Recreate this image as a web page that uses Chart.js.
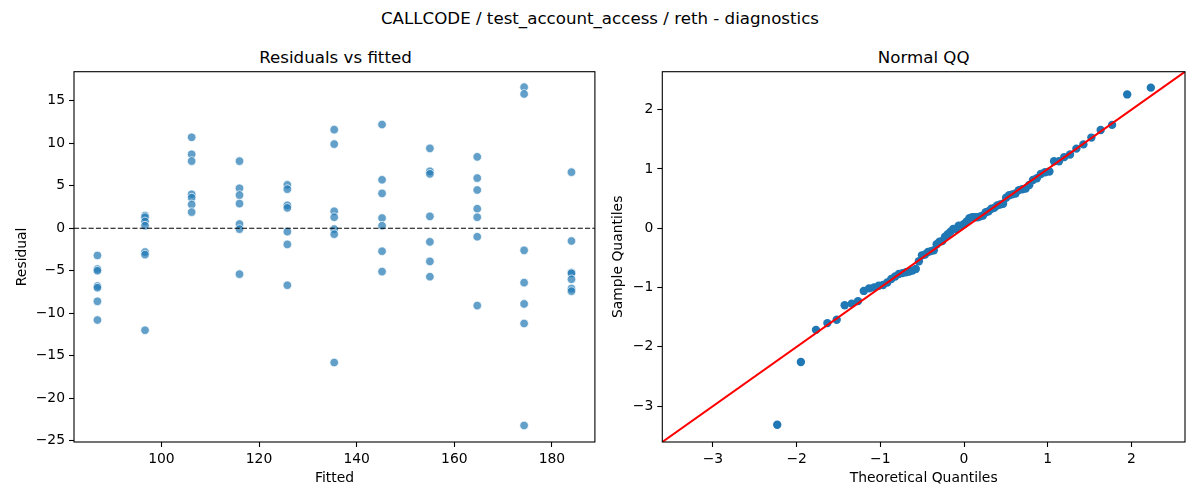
<!DOCTYPE html>
<html><head><meta charset="utf-8">
<script src="https://cdn.jsdelivr.net/npm/chart.js@4.4.1/dist/chart.umd.min.js"></script>
<style>
html,body{margin:0;padding:0;background:#fff;width:1200px;height:500px;overflow:hidden;font-family:"DejaVu Sans",sans-serif;}
.t{position:absolute;white-space:nowrap;color:#000;font-size:16.67px;line-height:20px;transform:translateX(-50%);}
.box{position:absolute;top:0;height:500px;width:600px;}
</style></head><body>
<div class="t" style="left:600px;top:9.2px">CALLCODE / test_account_access / reth - diagnostics</div>
<div class="t" style="left:335.5px;top:47.6px">Residuals vs fitted</div>
<div class="t" style="left:923.7px;top:47.6px">Normal QQ</div>
<div class="box" style="left:0"><canvas id="c1" width="600" height="500"></canvas></div>
<div class="box" style="left:600px"><canvas id="c2" width="600" height="500"></canvas></div>
<script>
// ---------- data ----------
const fittedLevels = [86.9, 96.65, 106.2, 116.0, 125.8, 135.4, 145.2, 155.0, 164.7, 174.3, 184.0];
const res1  = [-3.2, -4.8, -5.0, -6.8, -7.0, -8.6, -10.8];
const res2  = [1.5, 1.3, 0.8, 0.3, -2.8, -3.1, -12.0];
const res3  = [10.7, 8.7, 7.9, 4.0, 3.6, 2.8, 1.9];
const res4  = [7.9, 4.7, 3.9, 2.9, 0.5, -0.1, -5.4];
const res5  = [5.1, 4.6, 2.7, 2.4, -0.4, -1.9, -6.7];
const res6  = [11.6, 9.9, 2.0, 1.3, -0.1, -0.7, -15.8];
const res7  = [12.2, 5.7, 4.1, 1.2, 0.3, -2.7, -5.1];
const res8  = [9.4, 6.7, 6.4, 1.4, -1.6, -3.9, -5.7];
const res9  = [8.4, 5.9, 4.5, 2.3, 1.3, -1.0, -9.1];
const res10 = [16.6, 15.8, -2.6, -6.4, -8.9, -11.2, -23.2];
const res11 = [6.6, -1.5, -5.2, -5.3, -6.0, -7.1, -7.4];
const residualGroups = [res1, res2, res3, res4, res5, res6, res7, res8, res9, res10, res11];

const qqTheoretical = [-2.2317, -1.9494, -1.7688, -1.6326, -1.5215, -1.4261, -1.3422, -1.2666, -1.1976, -1.1347,
  -1.0757, -1.0201, -0.9674, -0.9172, -0.8694, -0.8233, -0.7790, -0.7363, -0.6949, -0.6547,
  -0.6151, -0.5767, -0.5391, -0.5024, -0.4663, -0.4307, -0.3957, -0.3611, -0.3270, -0.2934,
  -0.2599, -0.2267, -0.1940, -0.1613, -0.1289, -0.0966, -0.0643, -0.0321, 0.0, 0.0321,
  0.0643, 0.0966, 0.1289, 0.1613, 0.1940, 0.2267, 0.2599, 0.2934, 0.3270, 0.3611,
  0.3957, 0.4307, 0.4663, 0.5024, 0.5391, 0.5767, 0.6151, 0.6547, 0.6949, 0.7363,
  0.7790, 0.8233, 0.8694, 0.9172, 0.9674, 1.0201, 1.0757, 1.1347, 1.1976, 1.2666,
  1.3422, 1.4261, 1.5215, 1.6326, 1.7688, 1.9494, 2.2317];
const qqSample = [-3.314, -2.257, -1.714, -1.600, -1.543, -1.300, -1.271, -1.229, -1.057, -1.014,
  -1.000, -0.971, -0.957, -0.914, -0.857, -0.814, -0.771, -0.757, -0.743, -0.729,
  -0.714, -0.686, -0.557, -0.457, -0.443, -0.400, -0.386, -0.371, -0.271, -0.229,
  -0.214, -0.143, -0.100, -0.057, -0.014, -0.014, 0.043, 0.043, 0.071, 0.114,
  0.171, 0.186, 0.186, 0.186, 0.200, 0.214, 0.271, 0.286, 0.329, 0.343,
  0.386, 0.400, 0.414, 0.514, 0.557, 0.571, 0.586, 0.643, 0.657, 0.671,
  0.729, 0.814, 0.843, 0.914, 0.943, 0.957, 1.129, 1.129, 1.200, 1.243,
  1.343, 1.414, 1.529, 1.657, 1.743, 2.257, 2.371];

const residXTicks = [100, 120, 140, 160, 180];
const residYTicks = [-25, -20, -15, -10, -5, 0, 5, 10, 15];
const qqTicks = [-3, -2, -1, 0, 1, 2];
const residXRange = [82.1, 188.8];
const residYRange = [-25.15, 18.42];
const qqRange = [-3.605, 2.64];
const zeroLevel = 0;

// ---------- helpers ----------
Chart.defaults.color = '#000';
Chart.defaults.font.family = '"DejaVu Sans", sans-serif';
const tickFont = {size: 13.9};
const fmt = v => String(v).replace('-', '\u2212');

const framePlugin = {
  id: 'frame',
  afterDatasetsDraw(chart) {
    const {ctx, chartArea: a} = chart;
    ctx.save();
    ctx.strokeStyle = '#000';
    ctx.lineWidth = 1.1;
    ctx.strokeRect(a.left, a.top, a.right - a.left, a.bottom - a.top);
    ctx.restore();
  }
};

function axis(range, ticks, title, fitSize, horizontal, titlePad) {
  return {
    type: 'linear',
    min: range[0], max: range[1],
    afterBuildTicks: s => { s.ticks = ticks.map(v => ({value: v})); },
    afterFit: s => { if (horizontal) s.height = fitSize; else s.width = fitSize; },
    ticks: {font: tickFont, color: '#000', padding: 4, callback: fmt, maxRotation: 0, autoSkip: false},
    grid: {display: true, drawOnChartArea: false, drawTicks: true, tickLength: 5, tickColor: '#000', tickWidth: 1.1},
    border: {display: false},
    title: {display: true, text: title, font: {size: 13.9}, color: '#000', padding: titlePad}
  };
}

// ---------- left chart ----------
const residPoints = fittedLevels.flatMap((f, i) => residualGroups[i].map(r => ({x: f, y: r})));

const zeroLinePlugin = {
  id: 'zeroLine',
  afterDatasetsDraw(chart) {
    const {ctx, chartArea: a, scales} = chart;
    const y = scales.y.getPixelForValue(zeroLevel);
    ctx.save();
    ctx.strokeStyle = '#000';
    ctx.lineWidth = 1.1;
    ctx.setLineDash([5.1, 2.2]);
    ctx.beginPath();
    ctx.moveTo(a.left, y);
    ctx.lineTo(a.right, y);
    ctx.stroke();
    ctx.restore();
  }
};

new Chart(document.getElementById('c1'), {
  type: 'scatter',
  data: {datasets: [{
    data: residPoints,
    backgroundColor: 'rgba(31,119,180,0.7)',
    borderColor: 'rgba(255,255,255,0.9)',
    borderWidth: 0.8,
    pointRadius: 4.3,
    pointHoverRadius: 4.3
  }]},
  options: {
    responsive: false, animation: false, devicePixelRatio: 1,
    layout: {padding: {left: 0, right: 3, top: 71.7, bottom: 0}},
    plugins: {legend: {display: false}, tooltip: {enabled: false}},
    scales: {
      x: axis(residXRange, residXTicks, 'Fitted', 58, true, {top: 0, bottom: 13.5}),
      y: axis(residYRange, residYTicks, 'Residual', 74, false, {top: 13.7, bottom: 0})
    }
  },
  plugins: [zeroLinePlugin, framePlugin]
});

// ---------- right chart ----------
const qqPoints = qqTheoretical.map((t, i) => ({x: t, y: qqSample[i]}));
const refLine = qqRange.map(v => ({x: v, y: v}));

new Chart(document.getElementById('c2'), {
  type: 'scatter',
  data: {datasets: [
    {type: 'line', data: refLine, borderColor: '#ff0000', borderWidth: 2, pointRadius: 0, fill: false, order: 0},
    {data: qqPoints, backgroundColor: '#1f77b4', borderColor: '#1f77b4', borderWidth: 0, pointRadius: 4.2, pointHoverRadius: 4.2, order: 1}
  ]},
  options: {
    responsive: false, animation: false, devicePixelRatio: 1,
    layout: {padding: {left: 0, right: 15, top: 71.7, bottom: 0}},
    plugins: {legend: {display: false}, tooltip: {enabled: false}},
    scales: {
      x: axis(qqRange, qqTicks, 'Theoretical Quantiles', 58, true, {top: 0, bottom: 13.5}),
      y: axis(qqRange, qqTicks, 'Sample Quantiles', 62.3, false, {top: 9.7, bottom: 0})
    }
  },
  plugins: [framePlugin]
});
</script>
</body></html>
